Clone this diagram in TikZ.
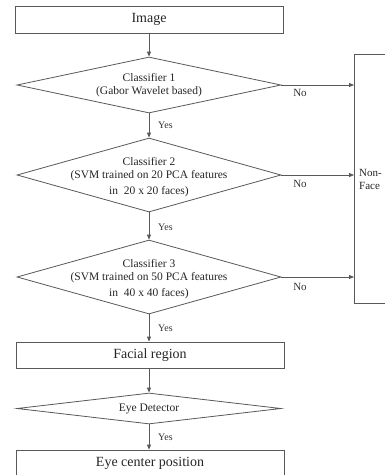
\documentclass[tikz,border=0pt]{standalone}
\usepackage{fontspec}
\setmainfont{Liberation Serif}
\usetikzlibrary{shapes.geometric,arrows.meta}
\begin{document}
\begin{tikzpicture}[x=1pt,y=-1pt,
  ln/.style={draw=black!65,line width=0.8pt},
  box/.style={ln,rectangle,minimum width=268pt,inner sep=0pt,font=\fontsize{14pt}{16pt}\selectfont,text=black!85},
  dia/.style={ln,diamond,minimum width=264pt,inner sep=0pt},
  dtext/.style={align=center,inner sep=0pt,font=\fontsize{11.5pt}{13pt}\selectfont,text=black!85},
  lbl/.style={inner sep=0pt,font=\fontsize{10pt}{12pt}\selectfont,text=black!80},
  arr/.style={ln,-{Triangle[length=5pt,width=4pt]}}]
\useasboundingbox (0,0) rectangle (385,475);
\clip (0,0) rectangle (385,475);
\fill[white] (0,0) rectangle (385,475);
% boxes
\node[box,minimum height=27pt] (img) at (149,19.5) {Image};
\node[box,minimum height=26pt] (fr) at (150,355) {Facial region};
\node[box,minimum height=27pt] (ec) at (150,463.5) {Eye center position};
\node[ln,rectangle,minimum width=70pt,minimum height=249pt,inner sep=0pt,anchor=north west] (nf) at (354,54) {};
% diamonds
\node[dia,minimum height=56pt] (d1) at (149,85) {};
\node[dia,minimum height=74pt] (d2) at (149,175) {};
\node[dia,minimum height=74pt] (d3) at (149,277) {};
\node[dia,minimum height=31pt] (d4) at (149,408.5) {};
% diamond texts
\node[dtext] (t1) at (149,85) {Classifier 1\\(Gabor Wavelet based)};
\node[dtext] (t2) at (149,177) {Classifier 2\\(SVM trained on 20 PCA features\\[3pt]in~ 20 x 20 faces)};
\node[dtext] (t3) at (149,279) {Classifier 3\\(SVM trained on 50 PCA features\\[3pt]in~ 40 x 40 faces)};
\node[dtext] (t4) at (149,408.5) {Eye Detector};
\node[dtext,align=left,anchor=west,font=\fontsize{11pt}{13pt}\selectfont] (nft) at (359,179) {Non-\\Face};
% vertical connectors
\draw[arr] (img.south) -- (d1.north);
\draw[arr] (d1.south) -- (d2.north);
\draw[arr] (d2.south) -- (d3.north);
\draw[arr] (d3.south) -- (fr.north -| d3.south);
\draw[arr] (fr.south -| d3.south) -- (d4.north);
\draw[arr] (d4.south) -- (ec.north -| d4.south);
% horizontal connectors
\draw[arr] (d1.east) -- (d1.east -| nf.west);
\draw[arr] (d2.east) -- (d2.east -| nf.west);
\draw[arr] (d3.east) -- (d3.east -| nf.west);
% labels
\node[lbl,anchor=west] (y1) at (158,125) {Yes};
\node[lbl,anchor=west] (y2) at (158,227) {Yes};
\node[lbl,anchor=west] (y3) at (158,328) {Yes};
\node[lbl,anchor=west] (y4) at (158,437) {Yes};
\node[lbl,font=\fontsize{11pt}{13pt}\selectfont] (n1) at (300,93) {No};
\node[lbl,font=\fontsize{11pt}{13pt}\selectfont] (n2) at (300,184) {No};
\node[lbl,font=\fontsize{11pt}{13pt}\selectfont] (n3) at (300,287) {No};
\end{tikzpicture}
\end{document}
